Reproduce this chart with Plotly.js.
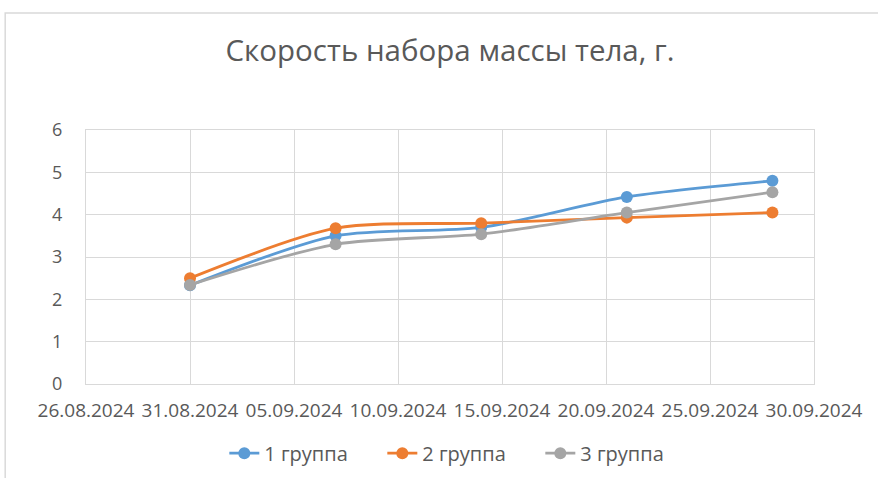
<!DOCTYPE html>
<html>
<head>
<meta charset="utf-8">
<script src="https://cdn.plot.ly/plotly-3.0.1.min.js"></script>
<style>
  html, body { margin: 0; padding: 0; background: #fff; }
  #chart { width: 878px; height: 478px; }
</style>
</head>
<body>
<div id="chart"></div>
<script>
const dates = ['2024-08-31', '2024-09-07', '2024-09-14', '2024-09-21', '2024-09-28'];
const group1 = [2.33, 3.50, 3.70, 4.42, 4.80];
const group2 = [2.50, 3.68, 3.80, 3.93, 4.05];
const group3 = [2.34, 3.30, 3.54, 4.05, 4.53];
const seriesNames = ['1 группа', '2 группа', '3 группа'];
const tickDates = ['2024-08-26', '2024-08-31', '2024-09-05', '2024-09-10', '2024-09-15', '2024-09-20', '2024-09-25', '2024-09-30'];
const tickLabels = ['26.08.2024', '31.08.2024', '05.09.2024', '10.09.2024', '15.09.2024', '20.09.2024', '25.09.2024', '30.09.2024'];
const yTicks = [0, 1, 2, 3, 4, 5, 6];
const titleText = 'Скорость набора массы тела, г.';

const colors = ['#5b9bd5', '#ed7d31', '#a5a5a5'];
const values = [group1, group2, group3];

const traces = values.map((v, i) => ({
  x: dates,
  y: v,
  name: seriesNames[i],
  type: 'scatter',
  mode: 'lines+markers',
  line: { color: colors[i], width: 2.8, shape: 'spline', smoothing: 0.8 },
  marker: { color: colors[i], size: 12 }
}));

const fontFam = '"Open Sans", sans-serif';
const txt = '#595959';
const grid = '#d9d9d9';

const layout = {
  width: 878,
  height: 478,
  margin: { l: 86, r: 64, t: 130, b: 94, autoexpand: false },
  paper_bgcolor: '#ffffff',
  plot_bgcolor: '#ffffff',
  font: { family: fontFam, color: txt },
  title: {
    text: titleText,
    font: { family: fontFam, size: 29.5, color: txt },
    x: 0.5, xanchor: 'center', xref: 'paper',
    y: 0.895, yanchor: 'middle', yref: 'container'
  },
  xaxis: {
    type: 'date',
    range: ['2024-08-26', '2024-09-30'],
    tickmode: 'array',
    tickvals: tickDates,
    ticktext: tickLabels,
    showgrid: true, gridcolor: grid, gridwidth: 1,
    showline: true, linecolor: grid, linewidth: 1, mirror: true,
    zeroline: false,
    ticks: '',
    ticklabelstandoff: 9,
    tickfont: { family: fontFam, size: 19, color: txt },
    fixedrange: true
  },
  yaxis: {
    range: [0, 6],
    tickmode: 'array',
    tickvals: yTicks,
    showgrid: true, gridcolor: grid, gridwidth: 1,
    showline: true, linecolor: grid, linewidth: 1, mirror: true,
    zeroline: false,
    ticks: '',
    ticklabelstandoff: 19,
    tickfont: { family: fontFam, size: 18, color: txt },
    fixedrange: true
  },
  showlegend: true,
  legend: {
    orientation: 'h',
    x: 0.19, xanchor: 'left',
    y: 0.052, yanchor: 'middle', yref: 'container',
    font: { family: fontFam, size: 20, color: txt },
    entrywidth: 113,
    itemclick: false, itemdoubleclick: false
  },
  shapes: [{
    type: 'rect', xref: 'paper', yref: 'paper',
    x0: -0.111, x1: 1.3, y0: -0.5, y1: 1.461,
    line: { color: '#d9d9d9', width: 1.5 },
    fillcolor: 'rgba(0,0,0,0)', layer: 'below'
  }]
};

Plotly.newPlot('chart', traces, layout, { displayModeBar: false, staticPlot: true });
</script>
</body>
</html>
